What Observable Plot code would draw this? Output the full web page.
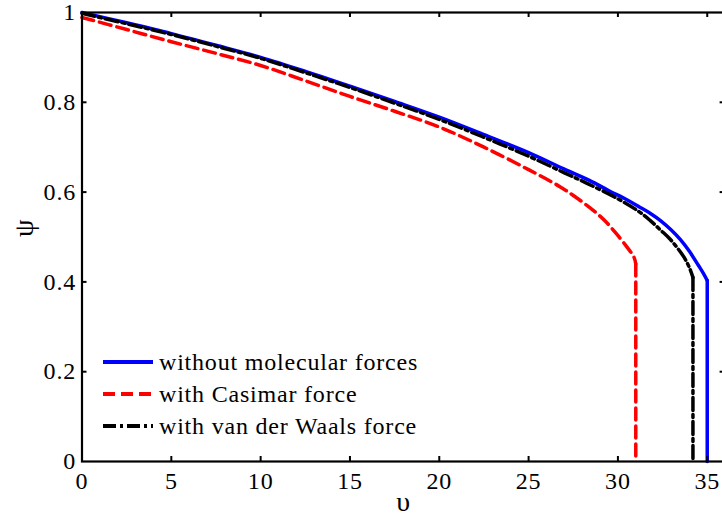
<!DOCTYPE html>
<html>
<head>
<meta charset="utf-8">
<script src="https://cdn.jsdelivr.net/npm/d3@7"></script>
<script src="https://cdn.jsdelivr.net/npm/@observablehq/plot@0.6"></script>
<style>
  html, body { margin: 0; padding: 0; background: white; overflow: hidden; }
  #chart svg { display: block; }
</style>
</head>
<body>
<div id="chart"></div>
<script>
// ---- data ----
const seriesNames = ["without molecular forces", "with Casimar force", "with van der Waals force"];

const upsilonNoForce = [0, 2.5, 5, 7.5, 10, 12.5, 15, 17.5, 20, 22.5, 25, 27, 28.4, 29.5, 30.5, 31.2, 31.8, 32.4, 33.0, 33.5, 34.0, 34.5, 34.8, 35.0, 35.0];
const psiNoForce     = [1.0, 0.977, 0.953, 0.927, 0.900, 0.869, 0.836, 0.802, 0.767, 0.728, 0.688, 0.651, 0.626, 0.603, 0.583, 0.567, 0.553, 0.536, 0.515, 0.494, 0.468, 0.437, 0.418, 0.403, 0];

const upsilonCasimir = [0, 2.5, 5, 7.5, 10, 12.5, 15, 17.5, 20, 22.5, 25, 26.8, 27.8, 28.6, 29.3, 29.9, 30.5, 30.9, 31.0, 31.0];
const psiCasimir     = [0.989, 0.962, 0.935, 0.909, 0.882, 0.848, 0.813, 0.780, 0.745, 0.700, 0.650, 0.611, 0.584, 0.560, 0.535, 0.508, 0.478, 0.455, 0.440, 0];

const upsilonVdW = [0, 2.5, 5, 7.5, 10, 12.5, 15, 17.5, 20, 22.5, 25, 27, 28.3, 30, 31.2, 31.8, 32.4, 32.9, 33.3, 33.7, 34.0, 34.2, 34.2];
const psiVdW     = [0.998, 0.975, 0.951, 0.925, 0.898, 0.866, 0.833, 0.798, 0.762, 0.722, 0.680, 0.643, 0.619, 0.585, 0.556, 0.537, 0.515, 0.496, 0.477, 0.455, 0.432, 0.410, 0];

const xTicks = [0, 5, 10, 15, 20, 25, 30, 35];
const yTicks = [0, 0.2, 0.4, 0.6, 0.8, 1];
const xLabel = "υ";
const yLabel = "ψ";

// ---- build rows ----
const rows = (xs, ys) => xs.map((x, i) => ({x, y: ys[i]}));
const series = [
  rows(upsilonNoForce, psiNoForce),
  rows(upsilonCasimir, psiCasimir),
  rows(upsilonVdW, psiVdW)
];

const styles = [
  {stroke: "#0000ff", dash: null},
  {stroke: "#ff0000", dash: "12,6"},
  {stroke: "#000000", dash: "13,4,3,4"}
];

const W = 722, H = 522, mL = 81.5, mR = -2.6, mT = 12, mB = 61;
const innerW = W - mL - mR, innerH = H - mT - mB;
const tick = 5;
const FONT = "'Liberation Serif', 'Times New Roman', serif";

// smooth part (catmull-rom) + straight vertical drop (linear)
const curveMarks = series.flatMap((r, i) => [
  Plot.line(r.slice(0, -1), {x: "x", y: "y", stroke: styles[i].stroke, strokeWidth: 3.5, strokeDasharray: styles[i].dash, curve: "catmull-rom"}),
  Plot.line(r.slice(-2), {x: "x", y: "y", stroke: styles[i].stroke, strokeWidth: 3.5, strokeDasharray: styles[i].dash})
]);

const plot = Plot.plot({
  width: W, height: H,
  marginLeft: mL, marginRight: mR, marginTop: mT, marginBottom: mB,
  style: {fontFamily: FONT, fontSize: "24px", background: "white", letterSpacing: "0.8px", color: "black"},
  x: {domain: [0, 36]},
  y: {domain: [0, 1]},
  marks: [
    ...curveMarks,
    Plot.frame({stroke: "black", strokeWidth: 2.2}),
    Plot.tickX(xTicks.slice(1), {x: d => d, insetTop: innerH - tick, stroke: "black", strokeWidth: 2}),
    Plot.tickX(xTicks.slice(1), {x: d => d, insetBottom: innerH - tick, stroke: "black", strokeWidth: 2}),
    Plot.tickY(yTicks.slice(1, -1), {y: d => d, insetRight: innerW - tick, stroke: "black", strokeWidth: 2}),
    Plot.tickY(yTicks.slice(1, -1), {y: d => d, insetLeft: innerW - tick, stroke: "black", strokeWidth: 2}),
    Plot.axisX({ticks: xTicks, tickSize: 0, tickPadding: 10, tickFormat: d => String(d), label: null}),
    Plot.axisY({ticks: yTicks, tickSize: 0, tickPadding: 6, tickFormat: d => String(d), label: null}),
    Plot.text([yLabel], {text: d => d, frameAnchor: "left", dx: -58, rotate: -90, fontSize: 28}),
    Plot.text([xLabel], {text: d => d, frameAnchor: "bottom", dy: 49, fontSize: 28})
  ]
});

document.getElementById("chart").appendChild(plot);

// ---- legend (inside plot, lower left) ----
const svg = d3.select(plot.tagName.toLowerCase() === "svg" ? plot : plot.querySelector("svg"));
const lg = svg.append("g")
  .attr("font-family", FONT).attr("font-size", 24)
  .attr("letter-spacing", "0.8px").attr("text-anchor", "start");
const lx0 = 103, lx1 = 153, ly0 = 362, lstep = 32;
seriesNames.forEach((name, i) => {
  const y = ly0 + i * lstep;
  lg.append("line")
    .attr("x1", lx0).attr("x2", lx1).attr("y1", y).attr("y2", y)
    .attr("stroke", styles[i].stroke).attr("stroke-width", 4)
    .attr("stroke-dasharray", styles[i].dash);
  lg.append("text")
    .attr("x", lx1 + 6).attr("y", y).attr("dy", "0.32em")
    .attr("text-anchor", "start")
    .attr("fill", "black")
    .text(name);
});
</script>
</body>
</html>
